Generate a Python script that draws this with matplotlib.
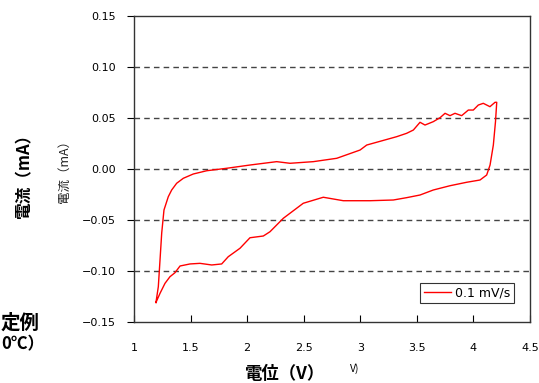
import matplotlib
matplotlib.use("Agg")
from matplotlib import pyplot as plt

plt.rcParams["font.family"] = ["Noto Sans CJK JP", "DejaVu Sans"]
plt.rcParams["axes.unicode_minus"] = True

# potential (V) / current (mA)
v_up = [1.194, 1.215, 1.230, 1.245, 1.265, 1.303, 1.333, 1.377, 1.436, 1.524,
        1.643, 1.819, 2.025, 2.261, 2.379, 2.585, 2.792, 2.998, 3.057, 3.322,
        3.410, 3.469, 3.528, 3.572, 3.645, 3.705, 3.749, 3.793, 3.837, 3.896,
        3.955, 3.999, 4.043, 4.087, 4.146, 4.191, 4.206]
i_up = [-0.1309, -0.1154, -0.0892, -0.0627, -0.0402, -0.0272, -0.0206, -0.0140,
        -0.0091, -0.0049, -0.0017, 0.0007, 0.0039, 0.0072, 0.0056, 0.0072,
        0.0105, 0.0186, 0.0235, 0.0317, 0.0350, 0.0382, 0.0458, 0.0431, 0.0464,
        0.0503, 0.0546, 0.0523, 0.0546, 0.0523, 0.0578, 0.0578, 0.0627, 0.0644,
        0.0611, 0.0654, 0.0654]
v_down = [4.206, 4.195, 4.176, 4.147, 4.117, 4.058, 3.941, 3.793, 3.645, 3.528,
          3.410, 3.292, 3.086, 2.850, 2.673, 2.496, 2.320, 2.202, 2.143, 2.025,
          1.937, 1.833, 1.775, 1.687, 1.583, 1.495, 1.407, 1.362, 1.318, 1.274,
          1.230, 1.194]
i_down = [0.0654, 0.0464, 0.0235, 0.0039, -0.0059, -0.0108, -0.0130, -0.0164,
          -0.0206, -0.0255, -0.0281, -0.0304, -0.0311, -0.0311, -0.0277, -0.0336,
          -0.0483, -0.0615, -0.0657, -0.0674, -0.0777, -0.0860, -0.0931, -0.0941,
          -0.0925, -0.0931, -0.0951, -0.1017, -0.1056, -0.1121, -0.1219, -0.1309]

x_ticks = [1, 1.5, 2, 2.5, 3, 3.5, 4, 4.5]
x_labels = ["1", "1.5", "2", "2.5", "3", "3.5", "4", "4.5"]
y_ticks = [-0.15, -0.10, -0.05, 0.00, 0.05, 0.10, 0.15]
y_grid = [-0.10, -0.05, 0.00, 0.05, 0.10]
legend_label = "0.1 mV/s"

fig = plt.figure(figsize=(5.39, 3.83), dpi=100)
ax = fig.add_axes([0.2486, 0.1593, 0.7347, 0.7989])

ax.plot(v_up + v_down[1:], i_up + i_down[1:], color="red", lw=1.0, label=legend_label)

for g in y_grid:
    ax.axhline(g, color="#444444", lw=1.0, ls=(0, (4, 3)), zorder=0)

ax.set_xlim(1, 4.5)
ax.set_ylim(-0.15, 0.15)
ax.set_xticks(x_ticks)
ax.set_xticklabels(x_labels, family="DejaVu Sans")
ax.set_yticks(y_ticks)
ax.set_yticklabels([("%.2f" % t).replace("-", "\u2212") for t in y_ticks],
                   family="DejaVu Sans")
ax.tick_params(axis="x", direction="in", length=5, pad=15, labelsize=8)
ax.tick_params(axis="y", direction="out", length=5, pad=8, labelsize=8)
for s in ax.spines.values():
    s.set_color("#333333")
    s.set_linewidth(1.0)

leg = ax.legend(loc="lower right", bbox_to_anchor=(0.96, 0.062), borderaxespad=0,
                frameon=True, fancybox=False, handlelength=2.2, handletextpad=0.3,
                borderpad=0.3, prop={"family": "DejaVu Sans", "size": 9})
leg.get_frame().set_edgecolor("black")
leg.get_frame().set_linewidth(0.8)

# overlapping labels from the composite picture
fig.text(24 / 539, 1 - 172 / 383, "電流（mA）", rotation=90, fontsize=12,
         fontweight="bold", ha="center", va="center")
fig.text(64 / 539, 1 - 168 / 383, "電流（mA）", rotation=90, fontsize=9,
         ha="center", va="center", color="#222222")
fig.text(1 / 539, 1 - 323 / 383, "定例", fontsize=14, fontweight="bold",
         ha="left", va="center")
fig.text(1 / 539, 1 - 344 / 383, "0℃）", fontsize=12, fontweight="bold",
         ha="left", va="center")
fig.text(285 / 539, 1 - 374 / 383, "電位（V）", fontsize=12.5, fontweight="bold",
         ha="center", va="center")
fig.text(355 / 539, 1 - 369 / 383, "V)", fontsize=7.5, ha="center", va="center")

fig.savefig("out.png", dpi=100)
